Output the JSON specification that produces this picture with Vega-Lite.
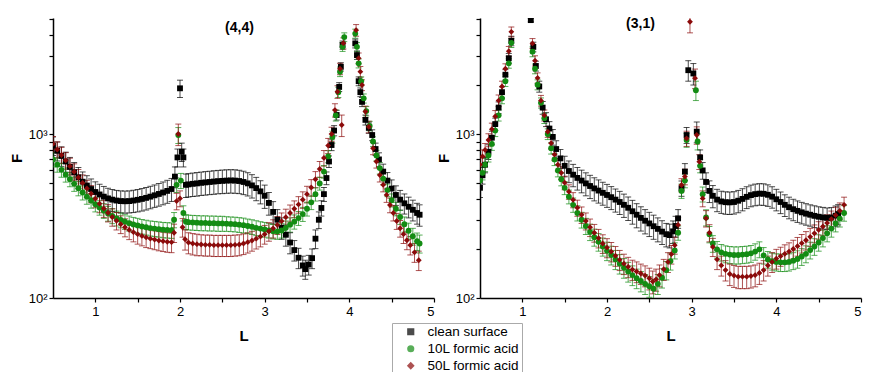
{
"$schema": "https://vega.github.io/schema/vega-lite/v6.json",
"padding": {"left": 9, "top": 13, "right": 5, "bottom": 5},
"bounds": "flush",
"spacing": 46,
"config": {
  "font": "Liberation Sans",
  "view": {"stroke": null},
  "axis": {"grid": false, "domainColor": "#000", "domainWidth": 1.5, "tickColor": "#000", "tickWidth": 1.2, "labelColor": "#000", "labelFontSize": 13, "titleFontSize": 15, "titleFontWeight": "bold", "titleColor": "#000"},
  "legend": {"orient": "none", "legendX": 339, "legendY": 305, "strokeColor": "#aaaaaa", "fillColor": "white", "padding": 2, "labelFontSize": 13.5, "labelColor": "#000", "symbolSize": 32, "rowPadding": 2, "symbolOffset": 10, "labelOffset": 10, "title": null}
},
"datasets": {
"A": [
{"s":"clean surface","L":0.5,"F":850,"e":110},{"s":"clean surface","L":0.55,"F":790,"e":105},{"s":"clean surface","L":0.6,"F":735,"e":100},{"s":"clean surface","L":0.65,"F":680,"e":95},{"s":"clean surface","L":0.7,"F":630,"e":90},{"s":"clean surface","L":0.75,"F":585,"e":85},{"s":"clean surface","L":0.8,"F":545,"e":80},{"s":"clean surface","L":0.85,"F":512,"e":75},{"s":"clean surface","L":0.9,"F":485,"e":72},{"s":"clean surface","L":0.95,"F":462,"e":70},{"s":"clean surface","L":1.0,"F":443,"e":68},{"s":"clean surface","L":1.05,"F":428,"e":66},{"s":"clean surface","L":1.1,"F":415,"e":64},{"s":"clean surface","L":1.15,"F":405,"e":62},{"s":"clean surface","L":1.2,"F":398,"e":61},{"s":"clean surface","L":1.25,"F":393,"e":60},{"s":"clean surface","L":1.3,"F":390,"e":60},{"s":"clean surface","L":1.35,"F":389,"e":60},{"s":"clean surface","L":1.4,"F":390,"e":60},{"s":"clean surface","L":1.45,"F":393,"e":61},{"s":"clean surface","L":1.5,"F":397,"e":62},{"s":"clean surface","L":1.55,"F":402,"e":63},{"s":"clean surface","L":1.6,"F":408,"e":64},{"s":"clean surface","L":1.65,"F":415,"e":65},{"s":"clean surface","L":1.7,"F":423,"e":66},{"s":"clean surface","L":1.75,"F":431,"e":68},{"s":"clean surface","L":1.8,"F":440,"e":70},{"s":"clean surface","L":1.85,"F":450,"e":72},{"s":"clean surface","L":1.9,"F":462,"e":74},{"s":"clean surface","L":1.94,"F":550,"e":80},{"s":"clean surface","L":1.97,"F":720,"e":90},{"s":"clean surface","L":2.0,"F":1900,"e":230},{"s":"clean surface","L":2.02,"F":780,"e":100},{"s":"clean surface","L":2.04,"F":720,"e":90},{"s":"clean surface","L":2.07,"F":490,"e":80},{"s":"clean surface","L":2.1,"F":493,"e":80},{"s":"clean surface","L":2.15,"F":497,"e":81},{"s":"clean surface","L":2.2,"F":500,"e":82},{"s":"clean surface","L":2.25,"F":504,"e":82},{"s":"clean surface","L":2.3,"F":507,"e":83},{"s":"clean surface","L":2.35,"F":510,"e":83},{"s":"clean surface","L":2.4,"F":513,"e":84},{"s":"clean surface","L":2.45,"F":516,"e":84},{"s":"clean surface","L":2.5,"F":518,"e":85},{"s":"clean surface","L":2.55,"F":520,"e":85},{"s":"clean surface","L":2.6,"F":521,"e":85},{"s":"clean surface","L":2.65,"F":520,"e":85},{"s":"clean surface","L":2.7,"F":517,"e":84},{"s":"clean surface","L":2.75,"F":510,"e":83},{"s":"clean surface","L":2.8,"F":500,"e":81},{"s":"clean surface","L":2.85,"F":486,"e":79},{"s":"clean surface","L":2.9,"F":468,"e":76},{"s":"clean surface","L":2.95,"F":447,"e":72},{"s":"clean surface","L":3.0,"F":420,"e":68},{"s":"clean surface","L":3.05,"F":380,"e":60},{"s":"clean surface","L":3.1,"F":335,"e":52},{"s":"clean surface","L":3.15,"F":300,"e":46},{"s":"clean surface","L":3.2,"F":268,"e":40},{"s":"clean surface","L":3.25,"F":243,"e":36},{"s":"clean surface","L":3.3,"F":218,"e":32},{"s":"clean surface","L":3.35,"F":196,"e":28},{"s":"clean surface","L":3.4,"F":176,"e":25},{"s":"clean surface","L":3.45,"F":158,"e":22},{"s":"clean surface","L":3.48,"F":150,"e":20},{"s":"clean surface","L":3.52,"F":160,"e":22},{"s":"clean surface","L":3.56,"F":175,"e":24},{"s":"clean surface","L":3.6,"F":230,"e":30},{"s":"clean surface","L":3.64,"F":300,"e":35},{"s":"clean surface","L":3.67,"F":354,"e":38},{"s":"clean surface","L":3.7,"F":430,"e":42},{"s":"clean surface","L":3.73,"F":539,"e":48},{"s":"clean surface","L":3.76,"F":680,"e":55},{"s":"clean surface","L":3.79,"F":857,"e":65},{"s":"clean surface","L":3.82,"F":1050,"e":75},{"s":"clean surface","L":3.85,"F":1306,"e":90},{"s":"clean surface","L":3.88,"F":1937,"e":120},{"s":"clean surface","L":3.9,"F":2570,"e":150},{"s":"clean surface","L":3.92,"F":3490,"e":200},{"s":"clean surface","L":4.07,"F":3570,"e":220},{"s":"clean surface","L":4.09,"F":3030,"e":180},{"s":"clean surface","L":4.11,"F":2100,"e":130},{"s":"clean surface","L":4.13,"F":1800,"e":110},{"s":"clean surface","L":4.15,"F":1570,"e":100},{"s":"clean surface","L":4.19,"F":1220,"e":85},{"s":"clean surface","L":4.23,"F":1090,"e":80},{"s":"clean surface","L":4.27,"F":986,"e":75},{"s":"clean surface","L":4.31,"F":810,"e":70},{"s":"clean surface","L":4.35,"F":700,"e":68},{"s":"clean surface","L":4.4,"F":590,"e":65},{"s":"clean surface","L":4.45,"F":520,"e":62},{"s":"clean surface","L":4.5,"F":465,"e":60},{"s":"clean surface","L":4.55,"F":425,"e":58},{"s":"clean surface","L":4.6,"F":398,"e":55},{"s":"clean surface","L":4.65,"F":378,"e":53},{"s":"clean surface","L":4.7,"F":360,"e":52},{"s":"clean surface","L":4.75,"F":345,"e":50},{"s":"clean surface","L":4.8,"F":330,"e":48},{"s":"clean surface","L":4.83,"F":322,"e":48},
{"s":"10L formic acid","L":0.5,"F":700,"e":70},{"s":"10L formic acid","L":0.55,"F":650,"e":65},{"s":"10L formic acid","L":0.6,"F":605,"e":60},{"s":"10L formic acid","L":0.65,"F":565,"e":56},{"s":"10L formic acid","L":0.7,"F":530,"e":53},{"s":"10L formic acid","L":0.75,"F":497,"e":50},{"s":"10L formic acid","L":0.8,"F":467,"e":47},{"s":"10L formic acid","L":0.85,"F":440,"e":44},{"s":"10L formic acid","L":0.9,"F":415,"e":42},{"s":"10L formic acid","L":0.95,"F":393,"e":40},{"s":"10L formic acid","L":1.0,"F":373,"e":38},{"s":"10L formic acid","L":1.05,"F":356,"e":36},{"s":"10L formic acid","L":1.1,"F":341,"e":35},{"s":"10L formic acid","L":1.15,"F":328,"e":34},{"s":"10L formic acid","L":1.2,"F":317,"e":33},{"s":"10L formic acid","L":1.25,"F":307,"e":32},{"s":"10L formic acid","L":1.3,"F":299,"e":31},{"s":"10L formic acid","L":1.35,"F":292,"e":30},{"s":"10L formic acid","L":1.4,"F":286,"e":30},{"s":"10L formic acid","L":1.45,"F":281,"e":29},{"s":"10L formic acid","L":1.5,"F":277,"e":29},{"s":"10L formic acid","L":1.55,"F":273,"e":28},{"s":"10L formic acid","L":1.6,"F":270,"e":28},{"s":"10L formic acid","L":1.65,"F":267,"e":28},{"s":"10L formic acid","L":1.7,"F":265,"e":28},{"s":"10L formic acid","L":1.75,"F":263,"e":28},{"s":"10L formic acid","L":1.8,"F":261,"e":28},{"s":"10L formic acid","L":1.85,"F":260,"e":28},{"s":"10L formic acid","L":1.9,"F":259,"e":28},{"s":"10L formic acid","L":1.93,"F":300,"e":32},{"s":"10L formic acid","L":1.96,"F":490,"e":50},{"s":"10L formic acid","L":1.98,"F":985,"e":110},{"s":"10L formic acid","L":2.01,"F":520,"e":55},{"s":"10L formic acid","L":2.04,"F":330,"e":35},{"s":"10L formic acid","L":2.07,"F":292,"e":30},{"s":"10L formic acid","L":2.1,"F":290,"e":30},{"s":"10L formic acid","L":2.15,"F":289,"e":30},{"s":"10L formic acid","L":2.2,"F":288,"e":30},{"s":"10L formic acid","L":2.25,"F":287,"e":30},{"s":"10L formic acid","L":2.3,"F":287,"e":30},{"s":"10L formic acid","L":2.35,"F":286,"e":30},{"s":"10L formic acid","L":2.4,"F":286,"e":30},{"s":"10L formic acid","L":2.45,"F":285,"e":30},{"s":"10L formic acid","L":2.5,"F":285,"e":30},{"s":"10L formic acid","L":2.55,"F":284,"e":29},{"s":"10L formic acid","L":2.6,"F":283,"e":29},{"s":"10L formic acid","L":2.65,"F":282,"e":29},{"s":"10L formic acid","L":2.7,"F":280,"e":29},{"s":"10L formic acid","L":2.75,"F":278,"e":29},{"s":"10L formic acid","L":2.8,"F":275,"e":28},{"s":"10L formic acid","L":2.85,"F":272,"e":28},{"s":"10L formic acid","L":2.9,"F":268,"e":28},{"s":"10L formic acid","L":2.95,"F":265,"e":27},{"s":"10L formic acid","L":3.0,"F":262,"e":27},{"s":"10L formic acid","L":3.05,"F":258,"e":26},{"s":"10L formic acid","L":3.1,"F":255,"e":26},{"s":"10L formic acid","L":3.15,"F":254,"e":26},{"s":"10L formic acid","L":3.2,"F":258,"e":26},{"s":"10L formic acid","L":3.25,"F":268,"e":27},{"s":"10L formic acid","L":3.3,"F":280,"e":28},{"s":"10L formic acid","L":3.35,"F":292,"e":29},{"s":"10L formic acid","L":3.4,"F":307,"e":30},{"s":"10L formic acid","L":3.45,"F":325,"e":32},{"s":"10L formic acid","L":3.5,"F":350,"e":34},{"s":"10L formic acid","L":3.55,"F":383,"e":37},{"s":"10L formic acid","L":3.6,"F":430,"e":40},{"s":"10L formic acid","L":3.65,"F":500,"e":45},{"s":"10L formic acid","L":3.7,"F":590,"e":52},{"s":"10L formic acid","L":3.75,"F":730,"e":62},{"s":"10L formic acid","L":3.8,"F":960,"e":80},{"s":"10L formic acid","L":3.84,"F":1300,"e":100},{"s":"10L formic acid","L":3.87,"F":1800,"e":130},{"s":"10L formic acid","L":3.89,"F":2400,"e":160},{"s":"10L formic acid","L":3.92,"F":3400,"e":210},{"s":"10L formic acid","L":3.94,"F":3900,"e":240},{"s":"10L formic acid","L":4.07,"F":4100,"e":260},{"s":"10L formic acid","L":4.09,"F":3400,"e":210},{"s":"10L formic acid","L":4.11,"F":2700,"e":170},{"s":"10L formic acid","L":4.14,"F":2100,"e":130},{"s":"10L formic acid","L":4.17,"F":1650,"e":105},{"s":"10L formic acid","L":4.2,"F":1380,"e":90},{"s":"10L formic acid","L":4.24,"F":1120,"e":75},{"s":"10L formic acid","L":4.28,"F":900,"e":62},{"s":"10L formic acid","L":4.32,"F":740,"e":55},{"s":"10L formic acid","L":4.36,"F":620,"e":50},{"s":"10L formic acid","L":4.4,"F":535,"e":45},{"s":"10L formic acid","L":4.45,"F":455,"e":40},{"s":"10L formic acid","L":4.5,"F":395,"e":36},{"s":"10L formic acid","L":4.55,"F":350,"e":33},{"s":"10L formic acid","L":4.6,"F":312,"e":31},{"s":"10L formic acid","L":4.65,"F":282,"e":30},{"s":"10L formic acid","L":4.7,"F":257,"e":29},{"s":"10L formic acid","L":4.75,"F":238,"e":28},{"s":"10L formic acid","L":4.8,"F":222,"e":27},{"s":"10L formic acid","L":4.83,"F":215,"e":27},
{"s":"50L formic acid","L":0.5,"F":870,"e":95},{"s":"50L formic acid","L":0.55,"F":805,"e":90},{"s":"50L formic acid","L":0.6,"F":745,"e":85},{"s":"50L formic acid","L":0.65,"F":690,"e":80},{"s":"50L formic acid","L":0.7,"F":637,"e":75},{"s":"50L formic acid","L":0.75,"F":588,"e":70},{"s":"50L formic acid","L":0.8,"F":543,"e":65},{"s":"50L formic acid","L":0.85,"F":503,"e":60},{"s":"50L formic acid","L":0.9,"F":466,"e":56},{"s":"50L formic acid","L":0.95,"F":433,"e":52},{"s":"50L formic acid","L":1.0,"F":403,"e":48},{"s":"50L formic acid","L":1.05,"F":376,"e":45},{"s":"50L formic acid","L":1.1,"F":352,"e":42},{"s":"50L formic acid","L":1.15,"F":331,"e":40},{"s":"50L formic acid","L":1.2,"F":312,"e":38},{"s":"50L formic acid","L":1.25,"F":296,"e":36},{"s":"50L formic acid","L":1.3,"F":282,"e":35},{"s":"50L formic acid","L":1.35,"F":270,"e":34},{"s":"50L formic acid","L":1.4,"F":260,"e":33},{"s":"50L formic acid","L":1.45,"F":252,"e":32},{"s":"50L formic acid","L":1.5,"F":245,"e":32},{"s":"50L formic acid","L":1.55,"F":239,"e":31},{"s":"50L formic acid","L":1.6,"F":234,"e":31},{"s":"50L formic acid","L":1.65,"F":230,"e":30},{"s":"50L formic acid","L":1.7,"F":227,"e":30},{"s":"50L formic acid","L":1.75,"F":224,"e":30},{"s":"50L formic acid","L":1.8,"F":222,"e":30},{"s":"50L formic acid","L":1.85,"F":220,"e":30},{"s":"50L formic acid","L":1.9,"F":219,"e":30},{"s":"50L formic acid","L":1.93,"F":250,"e":32},{"s":"50L formic acid","L":1.96,"F":390,"e":45},{"s":"50L formic acid","L":1.98,"F":1000,"e":150},{"s":"50L formic acid","L":2.0,"F":405,"e":45},{"s":"50L formic acid","L":2.03,"F":270,"e":35},{"s":"50L formic acid","L":2.06,"F":228,"e":32},{"s":"50L formic acid","L":2.1,"F":218,"e":32},{"s":"50L formic acid","L":2.15,"F":215,"e":32},{"s":"50L formic acid","L":2.2,"F":213,"e":32},{"s":"50L formic acid","L":2.25,"F":212,"e":31},{"s":"50L formic acid","L":2.3,"F":211,"e":31},{"s":"50L formic acid","L":2.35,"F":211,"e":31},{"s":"50L formic acid","L":2.4,"F":210,"e":31},{"s":"50L formic acid","L":2.45,"F":210,"e":31},{"s":"50L formic acid","L":2.5,"F":210,"e":31},{"s":"50L formic acid","L":2.55,"F":210,"e":31},{"s":"50L formic acid","L":2.6,"F":210,"e":31},{"s":"50L formic acid","L":2.65,"F":211,"e":31},{"s":"50L formic acid","L":2.7,"F":212,"e":31},{"s":"50L formic acid","L":2.75,"F":215,"e":31},{"s":"50L formic acid","L":2.8,"F":219,"e":31},{"s":"50L formic acid","L":2.85,"F":224,"e":31},{"s":"50L formic acid","L":2.9,"F":230,"e":31},{"s":"50L formic acid","L":2.95,"F":237,"e":32},{"s":"50L formic acid","L":3.0,"F":245,"e":32},{"s":"50L formic acid","L":3.05,"F":255,"e":33},{"s":"50L formic acid","L":3.1,"F":266,"e":34},{"s":"50L formic acid","L":3.15,"F":279,"e":35},{"s":"50L formic acid","L":3.2,"F":294,"e":36},{"s":"50L formic acid","L":3.25,"F":311,"e":37},{"s":"50L formic acid","L":3.3,"F":330,"e":39},{"s":"50L formic acid","L":3.35,"F":350,"e":41},{"s":"50L formic acid","L":3.4,"F":372,"e":43},{"s":"50L formic acid","L":3.45,"F":398,"e":46},{"s":"50L formic acid","L":3.5,"F":430,"e":50},{"s":"50L formic acid","L":3.55,"F":472,"e":55},{"s":"50L formic acid","L":3.6,"F":530,"e":60},{"s":"50L formic acid","L":3.65,"F":612,"e":68},{"s":"50L formic acid","L":3.7,"F":715,"e":78},{"s":"50L formic acid","L":3.75,"F":850,"e":90},{"s":"50L formic acid","L":3.79,"F":1000,"e":100},{"s":"50L formic acid","L":3.83,"F":1400,"e":130},{"s":"50L formic acid","L":3.86,"F":1810,"e":160},{"s":"50L formic acid","L":3.89,"F":2500,"e":200},{"s":"50L formic acid","L":3.91,"F":1135,"e":170},{"s":"50L formic acid","L":3.93,"F":3580,"e":280},{"s":"50L formic acid","L":4.08,"F":4300,"e":350},{"s":"50L formic acid","L":4.11,"F":2900,"e":220},{"s":"50L formic acid","L":4.13,"F":2400,"e":180},{"s":"50L formic acid","L":4.15,"F":1990,"e":150},{"s":"50L formic acid","L":4.19,"F":1370,"e":110},{"s":"50L formic acid","L":4.23,"F":1107,"e":90},{"s":"50L formic acid","L":4.28,"F":818,"e":70},{"s":"50L formic acid","L":4.32,"F":680,"e":60},{"s":"50L formic acid","L":4.36,"F":562,"e":52},{"s":"50L formic acid","L":4.4,"F":490,"e":46},{"s":"50L formic acid","L":4.44,"F":425,"e":42},{"s":"50L formic acid","L":4.48,"F":369,"e":38},{"s":"50L formic acid","L":4.52,"F":330,"e":35},{"s":"50L formic acid","L":4.56,"F":295,"e":33},{"s":"50L formic acid","L":4.6,"F":266,"e":31},{"s":"50L formic acid","L":4.64,"F":245,"e":30},{"s":"50L formic acid","L":4.68,"F":225,"e":28},{"s":"50L formic acid","L":4.72,"F":210,"e":27},{"s":"50L formic acid","L":4.77,"F":190,"e":25},{"s":"50L formic acid","L":4.82,"F":170,"e":23}
],
"B": [
{"s":"clean surface","L":0.5,"F":470,"e":60},{"s":"clean surface","L":0.53,"F":560,"e":65},{"s":"clean surface","L":0.56,"F":650,"e":70},{"s":"clean surface","L":0.6,"F":780,"e":80},{"s":"clean surface","L":0.64,"F":950,"e":90},{"s":"clean surface","L":0.68,"F":1150,"e":100},{"s":"clean surface","L":0.72,"F":1450,"e":120},{"s":"clean surface","L":0.76,"F":1800,"e":140},{"s":"clean surface","L":0.8,"F":2300,"e":170},{"s":"clean surface","L":0.84,"F":2900,"e":200},{"s":"clean surface","L":0.87,"F":3700,"e":250},{"s":"clean surface","L":1.1,"F":4950,"e":120},{"s":"clean surface","L":1.13,"F":3400,"e":230},{"s":"clean surface","L":1.16,"F":2600,"e":180},{"s":"clean surface","L":1.2,"F":1950,"e":150},{"s":"clean surface","L":1.24,"F":1450,"e":130},{"s":"clean surface","L":1.28,"F":1230,"e":120},{"s":"clean surface","L":1.32,"F":1080,"e":110},{"s":"clean surface","L":1.36,"F":960,"e":105},{"s":"clean surface","L":1.4,"F":810,"e":100},{"s":"clean surface","L":1.45,"F":710,"e":95},{"s":"clean surface","L":1.5,"F":640,"e":92},{"s":"clean surface","L":1.55,"F":595,"e":90},{"s":"clean surface","L":1.6,"F":565,"e":88},{"s":"clean surface","L":1.65,"F":540,"e":85},{"s":"clean surface","L":1.7,"F":520,"e":82},{"s":"clean surface","L":1.75,"F":500,"e":80},{"s":"clean surface","L":1.8,"F":482,"e":78},{"s":"clean surface","L":1.85,"F":466,"e":75},{"s":"clean surface","L":1.9,"F":452,"e":73},{"s":"clean surface","L":1.95,"F":438,"e":70},{"s":"clean surface","L":2.0,"F":425,"e":68},{"s":"clean surface","L":2.05,"F":412,"e":66},{"s":"clean surface","L":2.1,"F":398,"e":64},{"s":"clean surface","L":2.15,"F":385,"e":62},{"s":"clean surface","L":2.2,"F":370,"e":60},{"s":"clean surface","L":2.25,"F":355,"e":58},{"s":"clean surface","L":2.3,"F":338,"e":56},{"s":"clean surface","L":2.35,"F":322,"e":54},{"s":"clean surface","L":2.4,"F":308,"e":52},{"s":"clean surface","L":2.45,"F":296,"e":50},{"s":"clean surface","L":2.5,"F":285,"e":48},{"s":"clean surface","L":2.55,"F":274,"e":46},{"s":"clean surface","L":2.6,"F":264,"e":44},{"s":"clean surface","L":2.65,"F":254,"e":42},{"s":"clean surface","L":2.7,"F":245,"e":40},{"s":"clean surface","L":2.74,"F":242,"e":40},{"s":"clean surface","L":2.78,"F":255,"e":40},{"s":"clean surface","L":2.81,"F":275,"e":40},{"s":"clean surface","L":2.84,"F":306,"e":40},{"s":"clean surface","L":2.88,"F":467,"e":50},{"s":"clean surface","L":2.92,"F":590,"e":70},{"s":"clean surface","L":2.94,"F":986,"e":110},{"s":"clean surface","L":2.96,"F":2450,"e":350},{"s":"clean surface","L":3.02,"F":2340,"e":350},{"s":"clean surface","L":3.06,"F":1034,"e":150},{"s":"clean surface","L":3.1,"F":720,"e":80},{"s":"clean surface","L":3.13,"F":600,"e":70},{"s":"clean surface","L":3.17,"F":510,"e":70},{"s":"clean surface","L":3.21,"F":450,"e":68},{"s":"clean surface","L":3.25,"F":420,"e":65},{"s":"clean surface","L":3.3,"F":398,"e":62},{"s":"clean surface","L":3.35,"F":388,"e":60},{"s":"clean surface","L":3.4,"F":384,"e":60},{"s":"clean surface","L":3.45,"F":383,"e":60},{"s":"clean surface","L":3.5,"F":385,"e":60},{"s":"clean surface","L":3.55,"F":392,"e":61},{"s":"clean surface","L":3.6,"F":402,"e":62},{"s":"clean surface","L":3.65,"F":414,"e":63},{"s":"clean surface","L":3.7,"F":424,"e":64},{"s":"clean surface","L":3.75,"F":430,"e":65},{"s":"clean surface","L":3.8,"F":433,"e":65},{"s":"clean surface","L":3.85,"F":432,"e":65},{"s":"clean surface","L":3.9,"F":426,"e":64},{"s":"clean surface","L":3.95,"F":415,"e":62},{"s":"clean surface","L":4.0,"F":400,"e":60},{"s":"clean surface","L":4.05,"F":385,"e":58},{"s":"clean surface","L":4.1,"F":370,"e":56},{"s":"clean surface","L":4.15,"F":358,"e":54},{"s":"clean surface","L":4.2,"F":348,"e":52},{"s":"clean surface","L":4.25,"F":340,"e":51},{"s":"clean surface","L":4.3,"F":333,"e":50},{"s":"clean surface","L":4.35,"F":327,"e":49},{"s":"clean surface","L":4.4,"F":322,"e":48},{"s":"clean surface","L":4.45,"F":317,"e":48},{"s":"clean surface","L":4.5,"F":313,"e":47},{"s":"clean surface","L":4.55,"F":310,"e":47},{"s":"clean surface","L":4.6,"F":308,"e":46},{"s":"clean surface","L":4.65,"F":310,"e":46},{"s":"clean surface","L":4.7,"F":318,"e":46},{"s":"clean surface","L":4.73,"F":325,"e":46},
{"s":"10L formic acid","L":0.5,"F":520,"e":50},{"s":"10L formic acid","L":0.53,"F":580,"e":55},{"s":"10L formic acid","L":0.56,"F":650,"e":60},{"s":"10L formic acid","L":0.6,"F":740,"e":65},{"s":"10L formic acid","L":0.64,"F":870,"e":75},{"s":"10L formic acid","L":0.68,"F":1050,"e":85},{"s":"10L formic acid","L":0.72,"F":1300,"e":100},{"s":"10L formic acid","L":0.76,"F":1650,"e":120},{"s":"10L formic acid","L":0.8,"F":2100,"e":150},{"s":"10L formic acid","L":0.84,"F":2700,"e":180},{"s":"10L formic acid","L":0.87,"F":3600,"e":230},{"s":"10L formic acid","L":1.12,"F":3180,"e":220},{"s":"10L formic acid","L":1.15,"F":2500,"e":170},{"s":"10L formic acid","L":1.18,"F":2000,"e":140},{"s":"10L formic acid","L":1.22,"F":1550,"e":110},{"s":"10L formic acid","L":1.26,"F":1250,"e":90},{"s":"10L formic acid","L":1.3,"F":1000,"e":75},{"s":"10L formic acid","L":1.34,"F":820,"e":65},{"s":"10L formic acid","L":1.38,"F":700,"e":58},{"s":"10L formic acid","L":1.42,"F":600,"e":52},{"s":"10L formic acid","L":1.46,"F":530,"e":47},{"s":"10L formic acid","L":1.5,"F":470,"e":43},{"s":"10L formic acid","L":1.55,"F":415,"e":40},{"s":"10L formic acid","L":1.6,"F":370,"e":37},{"s":"10L formic acid","L":1.65,"F":330,"e":35},{"s":"10L formic acid","L":1.7,"F":300,"e":33},{"s":"10L formic acid","L":1.75,"F":275,"e":31},{"s":"10L formic acid","L":1.8,"F":253,"e":29},{"s":"10L formic acid","L":1.85,"F":235,"e":28},{"s":"10L formic acid","L":1.9,"F":220,"e":27},{"s":"10L formic acid","L":1.95,"F":206,"e":26},{"s":"10L formic acid","L":2.0,"F":194,"e":25},{"s":"10L formic acid","L":2.05,"F":183,"e":24},{"s":"10L formic acid","L":2.1,"F":172,"e":23},{"s":"10L formic acid","L":2.15,"F":162,"e":22},{"s":"10L formic acid","L":2.2,"F":153,"e":21},{"s":"10L formic acid","L":2.25,"F":145,"e":20},{"s":"10L formic acid","L":2.3,"F":138,"e":19},{"s":"10L formic acid","L":2.35,"F":132,"e":18},{"s":"10L formic acid","L":2.4,"F":127,"e":18},{"s":"10L formic acid","L":2.45,"F":122,"e":17},{"s":"10L formic acid","L":2.5,"F":118,"e":17},{"s":"10L formic acid","L":2.55,"F":114,"e":16},{"s":"10L formic acid","L":2.6,"F":122,"e":17},{"s":"10L formic acid","L":2.65,"F":133,"e":18},{"s":"10L formic acid","L":2.7,"F":148,"e":19},{"s":"10L formic acid","L":2.75,"F":168,"e":20},{"s":"10L formic acid","L":2.8,"F":195,"e":22},{"s":"10L formic acid","L":2.84,"F":250,"e":25},{"s":"10L formic acid","L":2.88,"F":450,"e":45},{"s":"10L formic acid","L":2.92,"F":520,"e":50},{"s":"10L formic acid","L":2.94,"F":920,"e":90},{"s":"10L formic acid","L":3.05,"F":1850,"e":250},{"s":"10L formic acid","L":3.07,"F":900,"e":100},{"s":"10L formic acid","L":3.1,"F":640,"e":60},{"s":"10L formic acid","L":3.13,"F":430,"e":45},{"s":"10L formic acid","L":3.17,"F":310,"e":35},{"s":"10L formic acid","L":3.21,"F":245,"e":28},{"s":"10L formic acid","L":3.25,"F":215,"e":25},{"s":"10L formic acid","L":3.3,"F":198,"e":23},{"s":"10L formic acid","L":3.35,"F":190,"e":22},{"s":"10L formic acid","L":3.4,"F":186,"e":22},{"s":"10L formic acid","L":3.45,"F":184,"e":22},{"s":"10L formic acid","L":3.5,"F":183,"e":22},{"s":"10L formic acid","L":3.55,"F":183,"e":22},{"s":"10L formic acid","L":3.6,"F":184,"e":22},{"s":"10L formic acid","L":3.65,"F":185,"e":22},{"s":"10L formic acid","L":3.7,"F":187,"e":22},{"s":"10L formic acid","L":3.75,"F":192,"e":22},{"s":"10L formic acid","L":3.8,"F":198,"e":22},{"s":"10L formic acid","L":3.85,"F":182,"e":21},{"s":"10L formic acid","L":3.9,"F":172,"e":20},{"s":"10L formic acid","L":3.95,"F":168,"e":20},{"s":"10L formic acid","L":4.0,"F":166,"e":20},{"s":"10L formic acid","L":4.05,"F":165,"e":20},{"s":"10L formic acid","L":4.1,"F":165,"e":20},{"s":"10L formic acid","L":4.15,"F":166,"e":20},{"s":"10L formic acid","L":4.2,"F":169,"e":20},{"s":"10L formic acid","L":4.25,"F":173,"e":21},{"s":"10L formic acid","L":4.3,"F":179,"e":21},{"s":"10L formic acid","L":4.35,"F":186,"e":22},{"s":"10L formic acid","L":4.4,"F":196,"e":23},{"s":"10L formic acid","L":4.45,"F":206,"e":24},{"s":"10L formic acid","L":4.5,"F":218,"e":25},{"s":"10L formic acid","L":4.55,"F":232,"e":27},{"s":"10L formic acid","L":4.6,"F":248,"e":28},{"s":"10L formic acid","L":4.65,"F":265,"e":30},{"s":"10L formic acid","L":4.7,"F":285,"e":32},{"s":"10L formic acid","L":4.75,"F":305,"e":34},{"s":"10L formic acid","L":4.8,"F":330,"e":36},
{"s":"50L formic acid","L":0.5,"F":650,"e":65},{"s":"50L formic acid","L":0.53,"F":730,"e":70},{"s":"50L formic acid","L":0.56,"F":800,"e":75},{"s":"50L formic acid","L":0.6,"F":920,"e":85},{"s":"50L formic acid","L":0.64,"F":1070,"e":95},{"s":"50L formic acid","L":0.68,"F":1280,"e":110},{"s":"50L formic acid","L":0.72,"F":1600,"e":130},{"s":"50L formic acid","L":0.76,"F":1950,"e":150},{"s":"50L formic acid","L":0.8,"F":2500,"e":180},{"s":"50L formic acid","L":0.84,"F":3200,"e":220},{"s":"50L formic acid","L":0.87,"F":4200,"e":300},{"s":"50L formic acid","L":1.12,"F":3570,"e":250},{"s":"50L formic acid","L":1.15,"F":2800,"e":200},{"s":"50L formic acid","L":1.18,"F":2200,"e":160},{"s":"50L formic acid","L":1.22,"F":1600,"e":120},{"s":"50L formic acid","L":1.26,"F":1300,"e":100},{"s":"50L formic acid","L":1.3,"F":1034,"e":80},{"s":"50L formic acid","L":1.34,"F":880,"e":70},{"s":"50L formic acid","L":1.38,"F":750,"e":62},{"s":"50L formic acid","L":1.42,"F":650,"e":56},{"s":"50L formic acid","L":1.46,"F":580,"e":52},{"s":"50L formic acid","L":1.5,"F":505,"e":48},{"s":"50L formic acid","L":1.55,"F":445,"e":45},{"s":"50L formic acid","L":1.6,"F":397,"e":42},{"s":"50L formic acid","L":1.65,"F":355,"e":40},{"s":"50L formic acid","L":1.7,"F":322,"e":37},{"s":"50L formic acid","L":1.75,"F":295,"e":35},{"s":"50L formic acid","L":1.8,"F":270,"e":33},{"s":"50L formic acid","L":1.85,"F":250,"e":31},{"s":"50L formic acid","L":1.9,"F":232,"e":30},{"s":"50L formic acid","L":1.95,"F":215,"e":28},{"s":"50L formic acid","L":2.0,"F":203,"e":27},{"s":"50L formic acid","L":2.05,"F":192,"e":26},{"s":"50L formic acid","L":2.1,"F":181,"e":25},{"s":"50L formic acid","L":2.15,"F":171,"e":24},{"s":"50L formic acid","L":2.2,"F":162,"e":23},{"s":"50L formic acid","L":2.25,"F":155,"e":22},{"s":"50L formic acid","L":2.3,"F":149,"e":21},{"s":"50L formic acid","L":2.35,"F":145,"e":21},{"s":"50L formic acid","L":2.4,"F":141,"e":20},{"s":"50L formic acid","L":2.45,"F":137,"e":20},{"s":"50L formic acid","L":2.5,"F":132,"e":20},{"s":"50L formic acid","L":2.54,"F":126,"e":20},{"s":"50L formic acid","L":2.58,"F":130,"e":20},{"s":"50L formic acid","L":2.62,"F":138,"e":21},{"s":"50L formic acid","L":2.67,"F":150,"e":22},{"s":"50L formic acid","L":2.72,"F":166,"e":23},{"s":"50L formic acid","L":2.76,"F":185,"e":24},{"s":"50L formic acid","L":2.8,"F":210,"e":25},{"s":"50L formic acid","L":2.84,"F":279,"e":30},{"s":"50L formic acid","L":2.88,"F":489,"e":45},{"s":"50L formic acid","L":2.92,"F":550,"e":60},{"s":"50L formic acid","L":2.94,"F":940,"e":100},{"s":"50L formic acid","L":2.98,"F":4840,"e":700},{"s":"50L formic acid","L":3.04,"F":2190,"e":300},{"s":"50L formic acid","L":3.06,"F":986,"e":120},{"s":"50L formic acid","L":3.09,"F":678,"e":70},{"s":"50L formic acid","L":3.13,"F":405,"e":45},{"s":"50L formic acid","L":3.17,"F":306,"e":35},{"s":"50L formic acid","L":3.21,"F":250,"e":30},{"s":"50L formic acid","L":3.25,"F":205,"e":26},{"s":"50L formic acid","L":3.3,"F":172,"e":23},{"s":"50L formic acid","L":3.35,"F":158,"e":22},{"s":"50L formic acid","L":3.4,"F":148,"e":21},{"s":"50L formic acid","L":3.45,"F":140,"e":21},{"s":"50L formic acid","L":3.5,"F":137,"e":21},{"s":"50L formic acid","L":3.55,"F":135,"e":21},{"s":"50L formic acid","L":3.6,"F":135,"e":21},{"s":"50L formic acid","L":3.65,"F":135,"e":21},{"s":"50L formic acid","L":3.7,"F":136,"e":21},{"s":"50L formic acid","L":3.75,"F":138,"e":21},{"s":"50L formic acid","L":3.8,"F":142,"e":21},{"s":"50L formic acid","L":3.85,"F":148,"e":21},{"s":"50L formic acid","L":3.9,"F":158,"e":22},{"s":"50L formic acid","L":3.95,"F":166,"e":23},{"s":"50L formic acid","L":4.0,"F":174,"e":24},{"s":"50L formic acid","L":4.05,"F":180,"e":24},{"s":"50L formic acid","L":4.1,"F":186,"e":25},{"s":"50L formic acid","L":4.15,"F":192,"e":25},{"s":"50L formic acid","L":4.2,"F":199,"e":26},{"s":"50L formic acid","L":4.25,"F":207,"e":27},{"s":"50L formic acid","L":4.3,"F":216,"e":28},{"s":"50L formic acid","L":4.35,"F":225,"e":29},{"s":"50L formic acid","L":4.4,"F":236,"e":30},{"s":"50L formic acid","L":4.45,"F":248,"e":31},{"s":"50L formic acid","L":4.5,"F":260,"e":32},{"s":"50L formic acid","L":4.55,"F":273,"e":33},{"s":"50L formic acid","L":4.6,"F":287,"e":35},{"s":"50L formic acid","L":4.65,"F":303,"e":36},{"s":"50L formic acid","L":4.7,"F":320,"e":38},{"s":"50L formic acid","L":4.75,"F":340,"e":40},{"s":"50L formic acid","L":4.8,"F":370,"e":42}
]
},
"hconcat": [
{
  "width": 381, "height": 280,
  "title": {"text": "(4,4)", "fontSize": 14, "fontWeight": "bold", "offset": -22, "anchor": "middle", "dx": -4, "color": "#000"},
  "data": {"name": "A"},
  "encoding": {
    "x": {"field": "L", "type": "quantitative", "title": "L", "scale": {"domain": [0.5, 5], "nice": false}, "axis": {"values": [1, 1.5, 2, 2.5, 3, 3.5, 4, 4.5, 5], "labelExpr": "datum.value % 1 == 0 ? format(datum.value, 'd') : ''", "tickSize": 4, "labelPadding": 3, "titlePadding": 10}},
    "y": {"field": "F", "type": "quantitative", "title": "F", "scale": {"type": "log", "domain": [100, 5100], "nice": false}, "axis": {"values": [100, 200, 300, 400, 500, 600, 700, 800, 900, 1000, 2000, 3000, 4000, 5000], "labelExpr": "datum.value == 100 ? '10²' : datum.value == 1000 ? '10³' : ''", "labelOverlap": false, "tickSize": 4, "labelPadding": 2, "titlePadding": 4}},
    "color": {"field": "s", "type": "nominal", "scale": {"domain": ["clean surface", "10L formic acid", "50L formic acid"], "range": ["#000000", "#138c13", "#8b0a0a"]}}
  },
  "layer": [
    {"mark": {"type": "errorbar", "ticks": {"size": 6}, "clip": true, "opacity": 0.7}, "encoding": {"yError": {"field": "e"}}},
    {"mark": {"type": "point", "filled": true, "size": 34, "opacity": 1, "clip": true}, "encoding": {"shape": {"field": "s", "type": "nominal", "scale": {"domain": ["clean surface", "10L formic acid", "50L formic acid"], "range": ["square", "circle", "diamond"]}}}}
  ]
},
{
  "width": 381, "height": 280,
  "title": {"text": "(3,1)", "fontSize": 14, "fontWeight": "bold", "offset": -18, "anchor": "middle", "dx": -30, "color": "#000"},
  "data": {"name": "B"},
  "encoding": {
    "x": {"field": "L", "type": "quantitative", "title": "L", "scale": {"domain": [0.5, 5], "nice": false}, "axis": {"values": [1, 1.5, 2, 2.5, 3, 3.5, 4, 4.5, 5], "labelExpr": "datum.value % 1 == 0 ? format(datum.value, 'd') : ''", "tickSize": 4, "labelPadding": 3, "titlePadding": 10}},
    "y": {"field": "F", "type": "quantitative", "title": "F", "scale": {"type": "log", "domain": [100, 5100], "nice": false}, "axis": {"values": [100, 200, 300, 400, 500, 600, 700, 800, 900, 1000, 2000, 3000, 4000, 5000], "labelExpr": "datum.value == 100 ? '10²' : datum.value == 1000 ? '10³' : ''", "labelOverlap": false, "tickSize": 4, "labelPadding": 2, "titlePadding": 4}},
    "color": {"field": "s", "type": "nominal", "scale": {"domain": ["clean surface", "10L formic acid", "50L formic acid"], "range": ["#000000", "#138c13", "#8b0a0a"]}}
  },
  "layer": [
    {"mark": {"type": "errorbar", "ticks": {"size": 6}, "clip": true, "opacity": 0.7}, "encoding": {"yError": {"field": "e"}}},
    {"mark": {"type": "point", "filled": true, "size": 34, "opacity": 1, "clip": true}, "encoding": {"shape": {"field": "s", "type": "nominal", "scale": {"domain": ["clean surface", "10L formic acid", "50L formic acid"], "range": ["square", "circle", "diamond"]}}}}
  ]
}
],
"resolve": {"scale": {"color": "shared", "shape": "shared"}}
}
